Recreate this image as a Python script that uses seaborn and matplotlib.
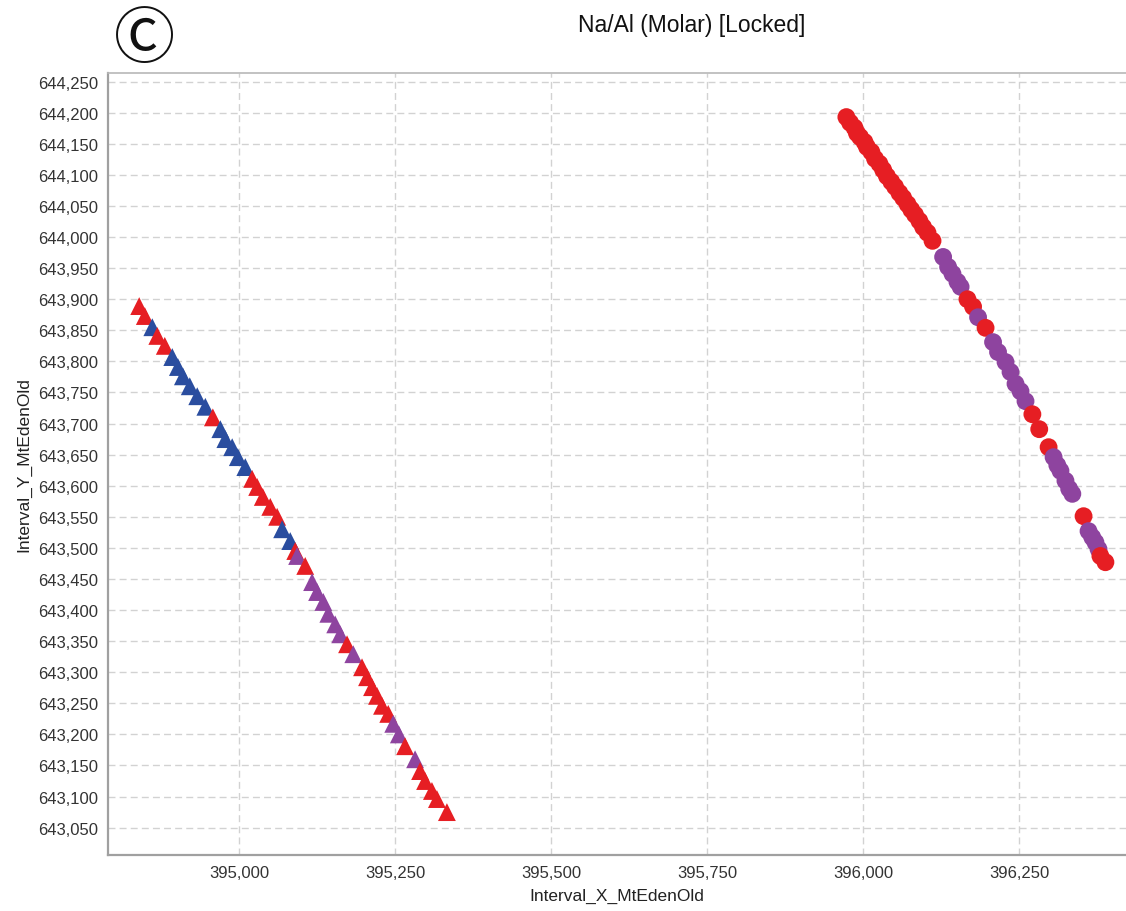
import matplotlib
matplotlib.use("Agg")
import matplotlib.pyplot as plt
import matplotlib.ticker as mticker
import seaborn as sns
import pandas as pd

# ---- data ----
tri_x = [394840, 394849, 394861, 394869, 394881, 394893, 394902, 394910, 394921, 394933,
         394946, 394958, 394970, 394978, 394989, 394998, 395010, 395021, 395029, 395038,
         395050, 395061, 395069, 395082, 395090, 395093, 395106, 395117, 395125, 395135,
         395143, 395154, 395162, 395173, 395183, 395197, 395205, 395213, 395221, 395229,
         395239, 395247, 395256, 395266, 395282, 395290, 395298, 395309, 395317, 395333]
tri_y = [643889, 643873, 643855, 643841, 643825, 643807, 643791, 643776, 643760, 643744,
         643727, 643710, 643691, 643675, 643662, 643646, 643630, 643611, 643598, 643582,
         643566, 643550, 643530, 643511, 643495, 643487, 643471, 643445, 643429, 643413,
         643394, 643377, 643361, 643345, 643329, 643308, 643292, 643276, 643262, 643246,
         643233, 643217, 643200, 643181, 643160, 643141, 643125, 643109, 643096, 643075]
tri_cls = ["R", "R", "B", "R", "R", "B", "B", "B", "B", "B",
           "B", "R", "B", "B", "B", "B", "B", "R", "R", "R",
           "R", "R", "B", "B", "R", "P", "R", "P", "P", "P",
           "P", "P", "P", "R", "P", "R", "R", "R", "R", "R",
           "R", "P", "P", "R", "P", "R", "R", "R", "R", "R"]

cir_x = [395973, 395979, 395986, 395990, 395995, 396002, 396006, 396013, 396019, 396026,
         396032, 396038, 396045, 396051, 396058, 396064, 396071, 396077, 396083, 396090,
         396096, 396103, 396111,
         396128, 396136, 396143, 396151, 396156, 396167, 396176, 396184, 396196, 396208,
         396216, 396228, 396236, 396244, 396252, 396260, 396271, 396282, 396297, 396305,
         396311, 396316, 396324, 396330, 396335, 396353, 396361, 396367, 396372, 396377,
         396380, 396388]
cir_y = [644193, 644184, 644176, 644167, 644161, 644153, 644145, 644137, 644126, 644118,
         644108, 644098, 644089, 644081, 644071, 644063, 644053, 644044, 644036, 644026,
         644016, 644007, 643994,
         643968, 643952, 643941, 643928, 643920, 643900, 643888, 643871, 643854, 643831,
         643815, 643799, 643783, 643764, 643752, 643736, 643715, 643691, 643662, 643646,
         643633, 643624, 643608, 643595, 643587, 643551, 643527, 643517, 643509, 643498,
         643487, 643477]
cir_cls = ["R"] * 23 + ["P", "P", "P", "P", "P", "R", "R", "P", "R", "P",
                        "P", "P", "P", "P", "P", "P", "R", "R", "R", "P",
                        "P", "P", "P", "P", "P", "R", "P", "P", "P", "P",
                        "R", "R"]

x_ticks = [395000, 395250, 395500, 395750, 396000, 396250]
y_ticks = list(range(643050, 644251, 50))

title = "Na/Al (Molar) [Locked]"
x_label = "Interval_X_MtEdenOld"
y_label = "Interval_Y_MtEdenOld"

palette = {"R": "#E61E23", "B": "#2A4D9F", "P": "#8E449F"}

# ---- plot ----
sns.set_style("white")
plt.rcParams["font.family"] = ["Liberation Sans", "DejaVu Sans"]

fig = plt.figure(figsize=(11.26, 9.12), dpi=100)
ax = fig.add_axes([0.0959, 0.0614, 0.9041, 0.8575])

df_t = pd.DataFrame({"x": tri_x, "y": tri_y, "c": tri_cls})
df_c = pd.DataFrame({"x": cir_x, "y": cir_y, "c": cir_cls})

sns.scatterplot(data=df_t, x="x", y="y", hue="c", palette=palette, marker="^",
                s=165, linewidth=0, legend=False, ax=ax, zorder=3)
sns.scatterplot(data=df_c, x="x", y="y", hue="c", palette=palette, marker="o",
                s=165, linewidth=0, legend=False, ax=ax, zorder=3)

ax.set_xlim(394790, 396421)
ax.set_ylim(643006, 644264)
ax.set_xticks(x_ticks)
ax.set_yticks(y_ticks)
fmt = mticker.StrMethodFormatter("{x:,.0f}")
ax.xaxis.set_major_formatter(fmt)
ax.yaxis.set_major_formatter(fmt)

ax.grid(True, color="#d2d2d2", linestyle=(0, (5, 3)), linewidth=1.0)
ax.set_axisbelow(True)

for side in ["left", "bottom"]:
    ax.spines[side].set_color("#a0a0a0")
    ax.spines[side].set_linewidth(1.6)
ax.spines["top"].set_color("#b8b8b8")
ax.spines["top"].set_linewidth(1.2)
ax.spines["right"].set_visible(False)

ax.tick_params(axis="both", which="major", direction="out", length=4, width=1,
               color="#a0a0a0", labelsize=12, labelcolor="#333333", pad=3)

ax.set_xlabel(x_label, fontsize=12.5, color="#222222", labelpad=6)
ax.set_ylabel(y_label, fontsize=12.5, color="#222222", labelpad=5)

fig.text(0.614, 0.985, title, ha="center", va="top", fontsize=16.5, color="#111111")
fig.text(0.128, 0.955, "\u24B8", ha="center", va="center", fontsize=44,
         color="#111111", family=["Noto Sans CJK JP", "DejaVu Sans"])

fig.savefig("out.png", dpi=100)
